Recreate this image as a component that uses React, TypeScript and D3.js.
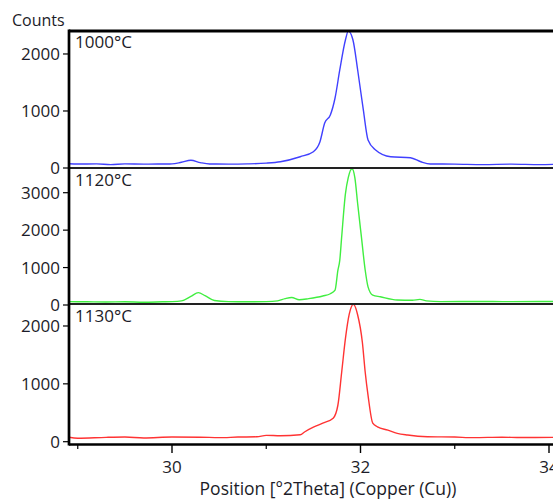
import React from "react";
import * as d3 from "d3";

// ---- data (2Theta positions and counts) ----
const pos1000 = [28.89, 29.0, 29.2, 29.35, 29.5, 29.7, 29.85, 30.0, 30.1, 30.2, 30.3, 30.4, 30.6, 30.8, 31.0, 31.15, 31.36, 31.5, 31.57, 31.62, 31.68, 31.73, 31.78, 31.84, 31.87, 31.92, 31.97, 32.03, 32.08, 32.16, 32.32, 32.53, 32.64, 32.74, 33.0, 33.3, 33.6, 33.9, 34.1];
const counts1000 = [75, 70, 72, 60, 72, 68, 70, 72, 100, 135, 95, 70, 68, 72, 85, 110, 198, 286, 462, 789, 930, 1228, 1719, 2246, 2400, 2246, 1719, 1018, 491, 316, 198, 181, 110, 70, 68, 60, 68, 60, 65];

const pos1120 = [28.89, 29.1, 29.3, 29.5, 29.7, 29.9, 30.0, 30.1, 30.2, 30.28, 30.35, 30.45, 30.6, 30.8, 31.0, 31.12, 31.2, 31.27, 31.35, 31.45, 31.6, 31.68, 31.73, 31.76, 31.78, 31.8, 31.84, 31.87, 31.91, 31.94, 31.97, 32.01, 32.05, 32.08, 32.13, 32.21, 32.39, 32.55, 32.63, 32.7, 32.85, 33.2, 33.6, 34.1];
const counts1120 = [90, 85, 80, 88, 75, 85, 90, 110, 230, 330, 250, 120, 90, 85, 90, 110, 170, 200, 140, 170, 240, 300, 398, 928, 1194, 1812, 2970, 3403, 3640, 3403, 2705, 1812, 928, 485, 265, 220, 133, 125, 150, 110, 90, 95, 90, 95];

const pos1130 = [28.89, 29.0, 29.3, 29.5, 29.7, 30.0, 30.3, 30.5, 30.7, 30.9, 31.0, 31.15, 31.36, 31.41, 31.5, 31.6, 31.71, 31.76, 31.8, 31.84, 31.88, 31.925, 31.97, 32.02, 32.05, 32.08, 32.13, 32.18, 32.29, 32.39, 32.5, 32.71, 33.0, 33.2, 33.5, 33.7, 34.1];
const counts1130 = [80, 60, 75, 80, 65, 80, 78, 70, 80, 85, 110, 103, 120, 172, 250, 321, 406, 630, 1196, 1780, 2200, 2374, 2190, 1715, 1200, 800, 321, 257, 200, 144, 115, 86, 80, 70, 78, 72, 75];

const panelLabels = ["1000°C", "1120°C", "1130°C"];
const panelMax = [2403, 3660, 2380];
const panelTicks = [[0, 1000, 2000], [0, 1000, 2000, 3000], [0, 1000, 2000]];
const panelColors = ["#4040ff", "#40ee40", "#ff3333"];
const xMajorTicks = [30, 32, 34];
const xMinorTicks = [29, 31, 33];

const series = [
  { pos: pos1000, counts: counts1000 },
  { pos: pos1120, counts: counts1120 },
  { pos: pos1130, counts: counts1130 },
];

// ---- layout ----
const W = 553;
const H = 502;
const plotLeft = 69;
const plotRight = 560;
const panelTop = [31, 168, 304];
const panelZero = [168, 305, 441.7];
const panelBottom = [168, 304, 444];
const FONT = "'Open Sans', 'Noto Sans', sans-serif";
const TEXT = "#1c1c28";

export default function App() {
  const x = d3.scaleLinear().domain([30, 34]).range([172, 549]);

  return (
    <svg width={W} height={H} style={{ position: "absolute", left: 0, top: 0, background: "#fff" }} fontFamily={FONT}>
      <defs>
        {panelTop.map((t, i) => (
          <clipPath id={`clip${i}`} key={i}>
            <rect x={plotLeft} y={t} width={plotRight - plotLeft} height={panelBottom[i] - t} />
          </clipPath>
        ))}
      </defs>
      <rect x={0} y={0} width={W} height={H} fill="#fff" />
      <text x={12} y={26} fontSize={16} fill={TEXT}>Counts</text>

      {series.map((s, i) => {
        const y = d3.scaleLinear().domain([0, panelMax[i]]).range([panelZero[i], panelTop[i]]);
        const pts: [number, number][] = s.pos.map((p, j) => [p, s.counts[j]]);
        const line = d3.line<[number, number]>().x((d) => x(d[0])).y((d) => y(d[1])).curve(d3.curveMonotoneX);
        return (
          <g key={i}>
            <path d={line(pts) || ""} fill="none" stroke={panelColors[i]} strokeWidth={1.4} clipPath={`url(#clip${i})`} />
            {panelTicks[i].map((t) => (
              <g key={t}>
                <line x1={63} x2={plotLeft} y1={y(t)} y2={y(t)} stroke="#000" strokeWidth={1.2} />
                <text x={60} y={y(t)} dy="0.36em" textAnchor="end" fontSize={17} fill={TEXT}>{t}</text>
              </g>
            ))}
            <text x={75} y={panelTop[i] + (i === 0 ? 17 : 18)} fontSize={17} fill={TEXT}>{panelLabels[i]}</text>
          </g>
        );
      })}

      {/* panel separators */}
      <line x1={plotLeft} x2={plotRight} y1={31} y2={31} stroke="#000" strokeWidth={3} />
      <line x1={plotLeft} x2={plotRight} y1={168} y2={168} stroke="#222" strokeWidth={2} />
      <line x1={plotLeft} x2={plotRight} y1={304} y2={304} stroke="#222" strokeWidth={2} />
      {/* axes */}
      <line x1={plotLeft} x2={plotRight} y1={444.5} y2={444.5} stroke="#000" strokeWidth={2.5} />
      <line x1={plotLeft} x2={plotLeft} y1={29.5} y2={445.5} stroke="#000" strokeWidth={2.7} />

      {xMajorTicks.map((t) => (
        <g key={t}>
          <line x1={x(t)} x2={x(t)} y1={445} y2={453} stroke="#000" strokeWidth={1.4} />
          <text x={x(t)} y={473} textAnchor="middle" fontSize={17} fill={TEXT}>{t}</text>
        </g>
      ))}
      {xMinorTicks.map((t) => (
        <line key={t} x1={x(t)} x2={x(t)} y1={445} y2={449} stroke="#000" strokeWidth={1.2} />
      ))}
      <text x={328} y={495} textAnchor="middle" fontSize={17.5} fill={TEXT}>Position [°2Theta] (Copper (Cu))</text>
    </svg>
  );
}
